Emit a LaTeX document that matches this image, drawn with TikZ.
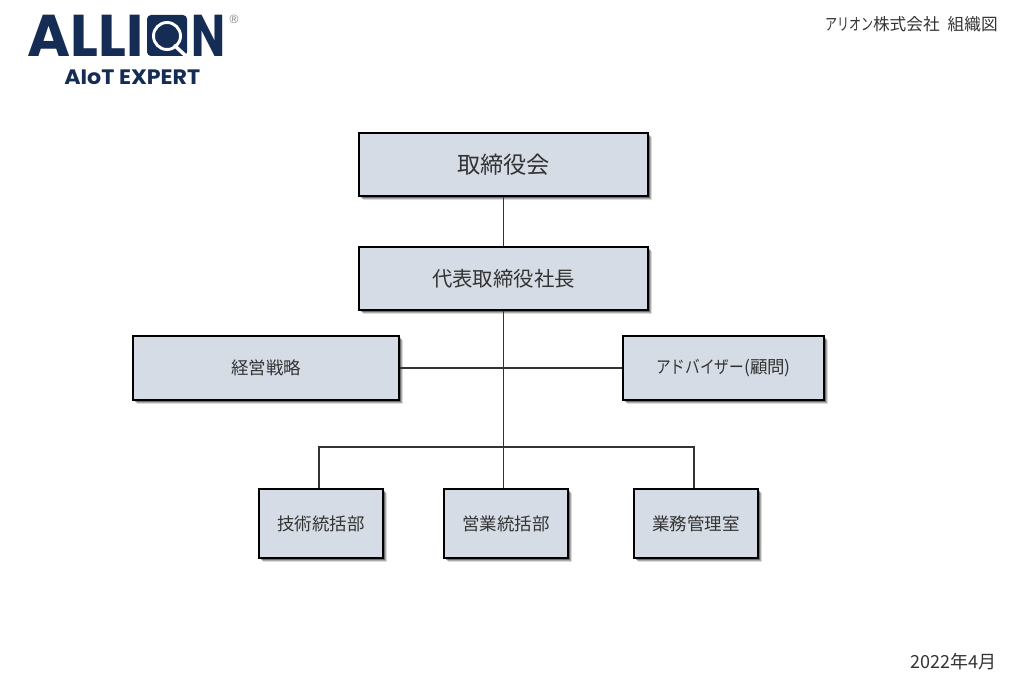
\documentclass[tikz,border=0pt]{standalone}
\usepackage{fontspec}
\usepackage{graphicx}
\usetikzlibrary{shadows,calc}
\newfontfamily\logof{Poppins}[BoldFont={Poppins Bold}]
\newfontfamily\regf{Liberation Sans}
\setmainfont{Noto Sans CJK JP}
\definecolor{navy}{HTML}{152C55}
\definecolor{boxfill}{HTML}{D6DCE5}
\definecolor{ink}{HTML}{333333}
\newcommand{\kana}[1]{\scalebox{.72}[1]{#1}}
\newcommand{\kanb}[1]{\scalebox{.84}[1]{#1}}
\tikzset{
  softshadow/.style={
    drop shadow={shadow xshift=3.0pt,shadow yshift=-3.0pt,fill=black,opacity=.14},
    drop shadow={shadow xshift=2.3pt,shadow yshift=-2.3pt,fill=black,opacity=.22},
    drop shadow={shadow xshift=1.6pt,shadow yshift=-1.6pt,fill=black,opacity=.35}},
  orgbox/.style={draw=black,line width=1.5pt,fill=boxfill,text=ink,inner sep=0pt,softshadow},
  link/.style={draw=black!80,line width=.8pt},
  logotext/.style={inner sep=0pt,text=navy,anchor=north west},
}
\begin{document}
\begin{tikzpicture}[x=.75pt,y=-.75pt]
\useasboundingbox (0,0) rectangle (1024,681);
% logo
\node[logotext] (logoa) at (27,15) {\resizebox{87pt}{31pt}{\logof\bfseries ALLI}};
\fill[navy,rounded corners=3pt] (147,15) rectangle (187,56);
\draw[white,line width=2.2pt] (167,36) circle[radius=13.5];
\draw[white,line width=2.6pt] (174,45) -- (187,57);
\node[logotext] (logon) at (191,15) {\resizebox{25.5pt}{31pt}{\logof\bfseries N}};
\node[inner sep=0pt,text=black!50,font=\regf\fontsize{9pt}{10pt}\selectfont] (logor) at (234,19.5) {®};
\node[logotext] (logob) at (64,69.5) {\resizebox{102pt}{11pt}{\logof\bfseries AIoT EXPERT}};
% titles
\node[inner sep=0pt,anchor=east,text=ink,font=\fontsize{12.5pt}{15pt}\selectfont] (title) at (998,24.5) {\kana{アリオン}株式会社\hspace{6pt}組織図};
\node[inner sep=0pt,anchor=east,text=ink,font=\fontsize{13.5pt}{16pt}\selectfont] (date) at (997,661.5) {2022年4月};
% boxes
\node[orgbox,minimum width=217pt,minimum height=47.5pt,font=\fontsize{17.4pt}{20pt}\selectfont] (board) at (503.5,164.5) {取締役会};
\node[orgbox,minimum width=217pt,minimum height=47.5pt,font=\fontsize{15.3pt}{18pt}\selectfont] (ceo) at (503.5,278.5) {代表取締役社長};
\node[orgbox,minimum width=200pt,minimum height=48pt,font=\fontsize{13.1pt}{16pt}\selectfont] (strategy) at (266,368) {経営戦略};
\node[orgbox,minimum width=151pt,minimum height=48pt,font=\fontsize{13.1pt}{16pt}\selectfont] (advisor) at (723.5,368) {\kanb{アドバイザー}(顧問)};
\node[orgbox,minimum width=93pt,minimum height=52pt,font=\fontsize{13.1pt}{16pt}\selectfont] (tech) at (321,523.5) {技術統括部};
\node[orgbox,minimum width=93pt,minimum height=52pt,font=\fontsize{13.1pt}{16pt}\selectfont] (sales) at (506,523.5) {営業統括部};
\node[orgbox,minimum width=93pt,minimum height=52pt,font=\fontsize{13.1pt}{16pt}\selectfont] (ops) at (696,523.5) {業務管理室};
% connectors
\draw[link] (board) -- (ceo);
\draw[link] (ceo.south) -- (ceo.south |- sales.north);
\draw[link] (strategy.east) -- (advisor.west);
\coordinate (bus) at (504,447);
\draw[link] ([xshift=-1.5pt]tech.north) |- (bus) -| ([xshift=-1.5pt]ops.north);
\end{tikzpicture}
\end{document}
